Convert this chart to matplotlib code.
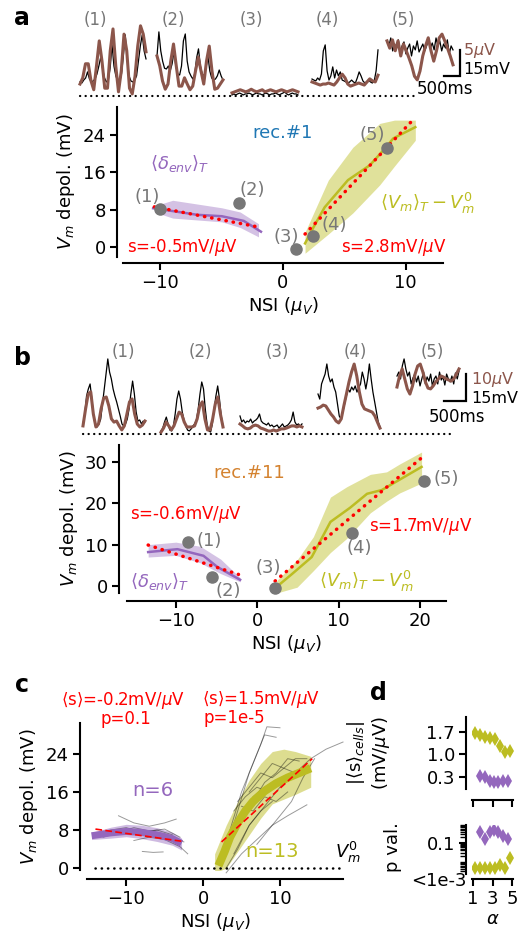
import numpy as np
import matplotlib
matplotlib.use("Agg")
import matplotlib.pyplot as plt
from matplotlib.ticker import LogLocator, NullFormatter

W, H = 527, 938
PURPLE = "#9467bd"
OLIVE = "#bcbd22"
BROWN = "#8c564b"
GREY = "#777777"
RED = "red"

# ---------------- example traces (black: Vm in mV, brown: envelope in uV) ----------------
a1_k = [8.1, 7.5, 9.2, 10.4, 13.9, 9.8, 8.1, 8.7, 9.8, 12.7, 17.3, 22.5, 15.6, 10.4, 8.1, 9.2, 16.2, 29.5,
        17.3, 11.6, 8.7, 8.1, 12.7, 23.1, 35.3, 22, 11.6, 8.7, 8.1, 9.2, 11.6, 20.2, 28.9, 35.3, 26, 21.4]
a1_b = [2.3, 3.5, 6.2, 6.2, 2.9, 1.2, 5.8, 10.6, 6.7, 1.5, 1.5, 8.7, 12.9, 5.8, 0.8, 4.8, 11.9, 8.7, 1.5,
        0.4, 3.8, 9.6, 13.5, 11.9, 8.5]
a2_k = [23, 37, 26, 20, 16, 15.6, 17.3, 14.5, 18.5, 25.4, 17.3, 12.7, 12.1, 17.3, 31.8, 35.8, 20.2, 13.9,
        11.6, 9.8, 12.7, 22, 27.2, 17.3, 12.7, 11.6, 16.2, 23.1, 14.5, 10.4, 9.2, 9.8, 11.6, 15, 11.6, 9.2]
a2_b = [7.7, 5.8, 2.9, 1.3, 2.3, 6.7, 10, 5.8, 1.9, 1.9, 3.5, 2.3, 1.2, 1.9, 4.8, 7.5, 4.8, 2.3, 6.7, 9.6,
        4.8, 1.3, 1.5, 2.3, 3.1]
a3_k = [0.6, 1.2, 0.6, 1.2, 1.7, 1.2, 0.6, 1.2, 1.2, 1.7, 1.2, 0.6, 1.2, 1.7, 1.2, 1.2, 0.6, 1.2, 1.7, 1.2,
        0.6, 1.2, 1.2, 1.7, 1.2, 0.6, 1.2, 1.7, 2.3, 1.2, 0.6, 1.2, 1.7, 1.2, 1.2, 0.6]
a3_b = [0.6, 0.8, 1, 1.2, 1, 0.8, 1, 1.3, 1, 0.8, 1, 1.2, 0.8, 1, 1.2, 1, 0.8, 1, 1.2, 1, 0.8, 1, 1.2, 1, 0.8]
a4_k = [9.8, 9.2, 8.7, 10.4, 9.2, 12.7, 26, 29.5, 14.5, 9.2, 11.6, 16.8, 10.4, 15, 11.6, 13.9, 9.2, 8.7,
        8.1, 7.5, 8.1, 9.2, 8.1, 7.5, 10.4, 13.9, 11.6, 8.7, 7.5, 8.1, 9.2, 8.1, 7.5, 8.7, 14.5, 26.6]
a4_b = [2.7, 2.5, 2.3, 2.1, 2.3, 2.3, 2.5, 2.3, 2.1, 2.7, 3.5, 4.2, 3.5, 2.3, 1.9, 2.1, 2.3, 2.5, 2.3, 2.1,
        2.7, 3.3, 2.9, 2.7, 4.0]
a5_k = [31.8, 28.9, 33.5, 26, 30, 27.7, 32.4, 25.4, 28.9, 31.2, 24.3, 27.7, 30, 23.1, 28.9, 26.6, 31.8, 25.4,
        27.7, 30, 26, 28.9, 32.4, 27.7, 30.6, 26.6, 33.5, 28.9, 31.8, 26, 30, 27.7, 32.4, 24.3, 28.9, 26.6]
a5_b = [10.6, 9.2, 10.8, 8.7, 10.6, 7.7, 10, 8.7, 7.3, 5.8, 3.8, 3.1, 4.8, 7.7, 9.6, 11.2, 8.7, 6.7, 8.7,
        11.2, 11.9, 10.6, 9.2, 7.7, 6]

b1_k = [5.6, 11.1, 21.1, 25, 27.8, 19.4, 10, 4.4, 3.9, 5.6, 8.3, 16.7, 25, 33.3, 41.7, 34.4, 30.6, 25,
        21.1, 17.8, 13.9, 10, 5.6, 4.4, 5.6, 8.3, 13.9, 22.2, 29.4, 22.2, 12.2, 7.2, 7.8, 5.6, 7.2, 6.7]
b1_b = [3, 9.3, 14.8, 15.6, 7.4, 2.6, 3.7, 9.3, 13.3, 13.7, 10.4, 5.6, 4.4, 4.8, 3, 1.5, 3, 7.4, 11.9, 13,
        7.4, 3.7, 2.6, 3.3, 4.8]
b2_k = [1.7, 3.3, 6.7, 9.4, 5.6, 2.2, 1.7, 4.4, 11.1, 19.4, 23.9, 19.4, 12.2, 7.8, 4.4, 2.2, 1.7, 2.8,
        4.4, 5.6, 7.8, 13.9, 22.2, 28.9, 25, 13.9, 5.6, 1.7, 1.1, 5.6, 13.9, 21.1, 26.7, 19.4, 10, 4.4]
b2_b = [0.7, 2.2, 4.4, 3, 1.5, 3, 5.6, 8.1, 7.4, 4.4, 2.6, 2.6, 2.6, 3, 5.6, 10.4, 11.9, 5.6, 1.5, 1.5,
        5.6, 11.1, 13.7, 7.4, 2.6]
b3_k = [10, 6.7, 7.8, 6.1, 7.2, 6.7, 8.3, 6.1, 7.2, 7.8, 8.9, 11.1, 7.2, 6.1, 5.6, 5, 6.1, 4.4, 5, 3.9,
        4.4, 5, 3.3, 4.4, 5.6, 3.9, 4.4, 5, 6.1, 7.8, 12.2, 6.7, 5, 5.6, 4.4, 5.6]
b3_b = [3.7, 3, 2.2, 1.9, 2.2, 3, 3.3, 3, 2.2, 1.9, 1.5, 1.1, 1.1, 1.5, 1.1, 1.5, 1.9, 1.9, 2.2, 2.6, 3, 3,
        2.6, 3, 2.6]
b4_k = [22.2, 19.4, 27.8, 30.6, 33.3, 38.9, 32.2, 28.9, 30.6, 26.1, 23.3, 16.7, 10, 8.3, 12.2, 16.7, 21.1,
        25, 23.3, 26.1, 24.4, 26.7, 23.3, 25.6, 27.8, 34.4, 30.6, 25, 30.6, 38.9, 30.6, 23.3, 17.8, 12.2,
        6.7, 3.9]
b4_b = [9.6, 10, 10.7, 10.4, 8.9, 7.4, 6.3, 4.8, 4.1, 5.6, 10.4, 14.8, 19.3, 23, 25.9, 21.5, 15.6, 11.1,
        9.3, 8.9, 8.5, 8.1, 6.7, 4.4, 2.2]
b5_k = [32.2, 34.4, 30.6, 37.8, 41.7, 36.1, 32.2, 34.4, 27.8, 31.1, 33.3, 28.9, 32.2, 26.7, 30.6, 34.4,
        27.8, 31.7, 29.4, 33.3, 26.7, 30.6, 32.2, 27.8, 34.4, 30, 31.7, 27.2, 33.3, 30.6, 28.9, 32.2, 27.8,
        33.9, 30.6, 35]
b5_b = [17.4, 21.5, 24.1, 20.4, 16.7, 14.8, 17.8, 22.2, 25.2, 25.9, 23, 19.3, 17, 16.7, 17.8, 19.3, 20.4,
        21.5, 21.1, 20.4, 20, 19.6, 20.4, 22.2, 24.1]

# ---------------- panel a : rec.#1 ----------------
a_env_x = [-10.6, -9, -7, -5, -3.2, -1.8]
a_env_y = [8.3, 7.7, 6.9, 6.6, 5.6, 3.3]
a_env_bx = [-10.5, -9, -7, -5, -3.5, -2]
a_env_hi = [8.8, 10.0, 9.2, 8.4, 7.5, 5.0]
a_env_lo = [7.5, 6.2, 5.8, 5.4, 4.2, 2.2]
a_vm_x = [1.8, 2.5, 3.4, 5.3, 7.1, 8.2, 9.0, 10.8]
a_vm_y = [0.8, 4.3, 8.5, 14.3, 17.5, 20.7, 23.2, 25.6]
a_vm_bx = [1.8, 3.7, 5.7, 7.9, 9.1, 10.8]
a_vm_hi = [3.2, 14.3, 21.3, 26.4, 27.1, 27.1]
a_vm_lo = [-1.3, 2.8, 7.3, 13.3, 17.3, 22.8]
a_fit_env_x, a_fit_env_y = [-10.5, -2], [8.6, 4.3]
a_fit_vm_x, a_fit_vm_y = [1.8, 10.7], [2.8, 27.4]
a_pts_x = [-10.0, -3.6, 1.06, 2.45, 8.5]
a_pts_y = [8.1, 9.4, -0.4, 2.3, 21.1]
a_lab_x = [-11.1, -2.5, 0.3, 4.2, 7.3]
a_lab_y = [10.7, 12.2, 2.1, 4.7, 23.9]

# ---------------- panel b : rec.#11 ----------------
b_env_x = [-13.4, -9.8, -6.6, -4.9, -2.1]
b_env_y = [8.2, 8.9, 7.3, 4.6, 1.5]
b_env_bx = [-13.4, -10, -7, -4.5, -2.1]
b_env_hi = [10.0, 10.6, 9.6, 6.5, 2.0]
b_env_lo = [7.0, 7.4, 5.6, 3.0, 1.0]
b_vm_x = [2.4, 4.4, 6.7, 9.0, 11.4, 13.5, 15.3, 20.2]
b_vm_y = [-0.2, 3.1, 7.0, 15.5, 18.9, 22.3, 23.2, 28.8]
b_vm_bx = [2.4, 4.9, 6.9, 9.0, 11.0, 13.9, 15.9, 17.5, 20.2]
b_vm_hi = [1.3, 6.3, 11.9, 21.5, 24.0, 27.0, 27.6, 29.5, 32.4]
b_vm_lo = [-1.7, -0.3, 3.7, 8.1, 11.5, 17.7, 20.5, 22.5, 24.9]
b_fit_env_x, b_fit_env_y = [-13.4, -2.3], [9.9, 2.8]
b_fit_vm_x, b_fit_vm_y = [2.2, 20.2], [1.2, 31.0]
b_pts_x = [-8.5, -5.5, 2.2, 11.7, 20.5]
b_pts_y = [10.7, 2.2, -0.5, 12.8, 25.4]
b_lab_x = [-5.9, -3.6, 1.4, 12.5, 23.2]
b_lab_y = [10.9, -1.2, 4.4, 9.2, 25.9]

# ---------------- panel c : population ----------------
c_env_x = [-14.5, -12, -10, -8, -6, -4, -2.8]
c_env_y = [6.8, 7.4, 7.7, 7.5, 7.0, 6.2, 5.2]
c_env_hi = [7.5, 8.6, 9.2, 9.0, 8.5, 7.5, 6.3]
c_env_lo = [6.0, 6.3, 6.6, 6.2, 5.6, 4.8, 3.8]
c_vm_x = [2, 2.8, 3.5, 4.5, 5.5, 6.5, 8, 9.5, 11, 12.5, 14]
c_vm_y = [0.5, 3.5, 6.5, 9.5, 12, 14, 16.2, 17.8, 19, 20, 21]
c_vm_bx = [1.5, 3, 4.5, 6, 7.5, 9, 10.5, 12, 14]
c_vm_hi = [3, 9, 14, 18.5, 22, 24.5, 25, 24.5, 23.5]
c_vm_lo = [-1, 0, 3.5, 7, 10.5, 13.5, 14.5, 15.5, 17]
c_fit_env_x, c_fit_env_y = [-14, -2.6], [8.2, 5.6]
c_fit_vm_x, c_fit_vm_y = [2.4, 14.2], [5.5, 23.0]
c_cells_env = [
    ([-13, -11, -9, -7, -5, -3], [6.5, 7.5, 8.5, 7.8, 8.2, 6.5]),
    ([-11, -9, -7, -5, -3.5], [11, 9.5, 8.8, 9.5, 10.3]),
    ([-9, -7, -5, -3, -2], [5.8, 6.5, 6, 4.5, 3]),
    ([-12, -10, -8, -6, -4], [8, 8.5, 7.5, 8, 7]),
    ([-7.9, -6.5, -5.2], [3.5, 3.3, 3.4]),
    ([-13.5, -11, -8, -5, -2.5], [7, 7.8, 8, 7.2, 5.5]),
]
c_cells_vm = [
    ([2, 3.5, 5, 6.5, 8, 9.5], [1, 8, 16, 22, 28, 27.5]),
    ([3, 4.5, 6, 7.5, 8.3, 10], [4, 12, 20, 26, 29.7, 29.5]),
    ([4, 6, 8, 10, 12, 14, 16, 18.2], [3, 9, 13, 17, 20, 23, 25, 26.5]),
    ([3, 5, 7, 9, 11, 13.5], [-1, 3, 6, 9, 11, 13.3]),
    ([4, 5.5, 7, 8.5, 10], [12, 15, 17, 16, 18]),
    ([4.5, 6, 7.5, 9, 10.5, 12], [14, 17, 20, 19, 21, 20]),
    ([5, 6.5, 8, 9.5, 11, 12.5], [10, 14, 18, 20, 23, 22.5]),
    ([3.5, 5, 6.5, 8, 9.5], [6, 10, 15, 17, 18.5]),
    ([6, 7.5, 9, 10.5, 12, 13.5], [16, 19, 22, 21, 23, 23]),
    ([2.5, 4, 5.5, 7, 8.5], [2, 7, 11, 15, 16]),
    ([5, 6.5, 8, 9.5, 11], [13, 12, 15, 14, 16]),
    ([7, 8.5, 10, 11.5, 13, 14.5], [5, 8, 11, 14, 19, 23]),
    ([3, 4.5, 6, 7.5, 9], [0, 4, 9, 12, 14]),
]

# ---------------- panel d : alpha dependence ----------------
d_alpha_olive = [1.25, 1.75, 2.25, 2.75, 3.25, 3.75, 4.25, 4.75]
d_s_olive = [1.65, 1.60, 1.54, 1.50, 1.47, 1.26, 1.06, 1.10]
d_p_olive = [0.0046, 0.0046, 0.0046, 0.0046, 0.0046, 0.0065, 0.0043, 0.016]
d_alpha_purple = [1.7, 2.2, 2.7, 3.15, 3.6, 4.1, 4.6]
d_s_purple = [0.32, 0.29, 0.18, 0.14, 0.14, 0.17, 0.18]
d_p_purple = [0.38, 0.17, 0.38, 0.5, 0.41, 0.24, 0.16]


def px_rect(x0, y0, x1, y1):
    return [x0 / W, 1 - y1 / H, (x1 - x0) / W, (y1 - y0) / H]


def style(ax, off_l, off_b, size=13):
    for s in ["top", "right"]:
        ax.spines[s].set_visible(False)
    ax.spines["left"].set_position(("outward", off_l))
    ax.spines["bottom"].set_position(("outward", off_b))
    for s in ["left", "bottom"]:
        ax.spines[s].set_linewidth(1.5)
    ax.tick_params(width=1.5, length=5, labelsize=size, pad=3)


def dotted(ax, x, y, color, lw=2.5, gap=2.0):
    ax.plot(x, y, color=color, lw=lw, ls=(0, (0.1, gap)), dash_capstyle="round", zorder=4)


fig = plt.figure(figsize=(W / 100, H / 100), dpi=100)


def strip(rect, x0px, base_px, px_s, px_mv, starts_px, dur_px, blacks, browns, b_scale):
    ax = fig.add_axes(px_rect(*rect))
    ax.set_xlim((rect[0] - x0px) / px_s, (rect[2] - x0px) / px_s)
    ax.set_ylim(-(rect[3] - base_px) / px_mv, (base_px - rect[1]) / px_mv)
    ax.axis("off")
    for sp, k, b in zip(starts_px, blacks, browns):
        t0 = (sp - x0px) / px_s
        d = dur_px / px_s
        ax.plot(t0 + np.linspace(0, d, len(k)), k, color="k", lw=0.9, zorder=2)
        ax.plot(t0 + np.linspace(0, d, len(b)), np.array(b) * b_scale, color=BROWN, lw=2.2, zorder=3,
                solid_joinstyle="round")
    return ax


# ---------- strip a ----------
sa = strip((75, 12, 480, 100), 75, 96, 34, 1.733, [80, 157, 232, 312, 387], 66,
           [a1_k, a2_k, a3_k, a4_k, a5_k], [a1_b, a2_b, a3_b, a4_b, a5_b], 3.0)
tx = lambda px: (px - 75) / 34
ty = lambda py: (96 - py) / 1.733
sa.plot([tx(80), tx(418)], [0, 0], color="k", lw=1.6, ls=(0, (0.1, 2.4)), dash_capstyle="round")
for i, px in enumerate([95, 173, 251, 327, 403]):
    sa.text(tx(px), ty(20), "(%d)" % (i + 1), color=GREY, fontsize=12, ha="center", va="center", clip_on=False)
sa.plot([tx(444), tx(460), tx(460)], [ty(76), ty(76), ty(50)], color="k", lw=1.6, solid_joinstyle="miter")
sa.text(tx(463), ty(51), r"5$\mu$V", color=BROWN, fontsize=11.5, va="center", clip_on=False)
sa.text(tx(463), ty(70), "15mV", color="k", fontsize=11.5, va="center", clip_on=False)
sa.text(tx(445), ty(89), "500ms", color="k", fontsize=12, ha="center", va="center", clip_on=False)

# ---------- main a ----------
ax = fig.add_axes(px_rect(123, 107, 443, 257))
style(ax, 4.3, 4.3)
ax.set_xlim(-13.06, 13.06)
ax.set_ylim(-2.1, 29.9)
ax.fill_between(a_env_bx, a_env_lo, a_env_hi, color=PURPLE, alpha=0.4, lw=0)
ax.plot(a_env_x, a_env_y, color=PURPLE, lw=1.8)
ax.fill_between(a_vm_bx, a_vm_lo, a_vm_hi, color=OLIVE, alpha=0.45, lw=0)
ax.plot(a_vm_x, a_vm_y, color=OLIVE, lw=1.8)
dotted(ax, a_fit_env_x, a_fit_env_y, RED)
dotted(ax, a_fit_vm_x, a_fit_vm_y, RED)
ax.plot(a_pts_x, a_pts_y, "o", color=GREY, ms=8, zorder=5)
for i, (x, y) in enumerate(zip(a_lab_x, a_lab_y)):
    ax.text(x, y, "(%d)" % (i + 1), color=GREY, fontsize=13, ha="center", va="center")
ax.text(0, 24.3, "rec.#1", color="tab:blue", fontsize=13, ha="center", va="center")
ax.text(-8.4, 17.9, r"$\langle\delta_{env}\rangle_T$", color=PURPLE, fontsize=13, ha="center", va="center")
ax.text(11.8, 9.4, r"$\langle V_m\rangle_T - V_m^0$", color=OLIVE, fontsize=13, ha="center", va="center")
ax.text(-8.2, 0, r"s=-0.5mV/$\mu$V", color=RED, fontsize=12, ha="center", va="center")
ax.text(9.0, 0, r"s=2.8mV/$\mu$V", color=RED, fontsize=12, ha="center", va="center")
ax.set_xticks([-10, 0, 10])
ax.set_yticks([0, 8, 16, 24])
ax.set_xlabel(r"NSI ($\mu_V$)", fontsize=13, labelpad=2)
ax.set_ylabel(r"$V_m$ depol. (mV)", fontsize=13)

# ---------- strip b ----------
sb = strip((75, 340, 490, 440), 75, 434, 44, 1.8, [83, 161, 240, 318, 397], 62,
           [b1_k, b2_k, b3_k, b4_k, b5_k], [b1_b, b2_b, b3_b, b4_b, b5_b], 1.5)
ux = lambda px: (px - 75) / 44
uy = lambda py: (434 - py) / 1.8
sb.plot([ux(83), ux(455)], [0, 0], color="k", lw=1.6, ls=(0, (0.1, 2.4)), dash_capstyle="round")
for i, px in enumerate([123, 200, 277, 355, 432]):
    sb.text(ux(px), uy(352), "(%d)" % (i + 1), color=GREY, fontsize=12, ha="center", va="center", clip_on=False)
sb.plot([ux(444), ux(466), ux(466)], [uy(401), uy(401), uy(374)], color="k", lw=1.6, solid_joinstyle="miter")
sb.text(ux(471), uy(379), r"10$\mu$V", color=BROWN, fontsize=11.5, va="center", clip_on=False)
sb.text(ux(471), uy(398), "15mV", color="k", fontsize=11.5, va="center", clip_on=False)
sb.text(ux(457), uy(417), "500ms", color="k", fontsize=12, ha="center", va="center", clip_on=False)

# ---------- main b ----------
ax = fig.add_axes(px_rect(127, 445, 446, 593))
style(ax, 5.8, 5.8)
ax.set_xlim(-16, 23.2)
ax.set_ylim(-1.7, 34.1)
ax.fill_between(b_env_bx, b_env_lo, b_env_hi, color=PURPLE, alpha=0.4, lw=0)
ax.plot(b_env_x, b_env_y, color=PURPLE, lw=1.8)
ax.fill_between(b_vm_bx, b_vm_lo, b_vm_hi, color=OLIVE, alpha=0.45, lw=0)
ax.plot(b_vm_x, b_vm_y, color=OLIVE, lw=1.8)
dotted(ax, b_fit_env_x, b_fit_env_y, RED)
dotted(ax, b_fit_vm_x, b_fit_vm_y, RED)
ax.plot(b_pts_x, b_pts_y, "o", color=GREY, ms=8, zorder=5, clip_on=False)
for i, (x, y) in enumerate(zip(b_lab_x, b_lab_y)):
    ax.text(x, y, "(%d)" % (i + 1), color=GREY, fontsize=13, ha="center", va="center", clip_on=False)
ax.text(-1.0, 27.4, "rec.#11", color="#d4822f", fontsize=13, ha="center", va="center")
ax.text(-12.0, 1.0, r"$\langle\delta_{env}\rangle_T$", color=PURPLE, fontsize=13, ha="center", va="center")
ax.text(13.4, 1.0, r"$\langle V_m\rangle_T - V_m^0$", color=OLIVE, fontsize=13, ha="center", va="center")
ax.text(-8.8, 17.4, r"s=-0.6mV/$\mu$V", color=RED, fontsize=12, ha="center", va="center")
ax.text(20.1, 14.3, r"s=1.7mV/$\mu$V", color=RED, fontsize=12, ha="center", va="center")
ax.set_xticks([-10, 0, 10, 20])
ax.set_yticks([0, 10, 20, 30])
ax.set_xlabel(r"NSI ($\mu_V$)", fontsize=13, labelpad=2)
ax.set_ylabel(r"$V_m$ depol. (mV)", fontsize=13)

# ---------- main c ----------
ax = fig.add_axes(px_rect(87, 723, 343, 870))
style(ax, 5, 6.5)
ax.set_xlim(-15.1, 18.2)
ax.set_ylim(-0.4, 30.5)
for x, y in c_cells_env + c_cells_vm:
    ax.plot(x, y, color="k", alpha=0.4, lw=0.7, zorder=2, clip_on=False)
ax.fill_between(c_env_x, c_env_lo, c_env_hi, color=PURPLE, alpha=0.45, lw=0, zorder=1)
ax.plot(c_env_x, c_env_y, color=PURPLE, lw=5, solid_capstyle="butt", solid_joinstyle="round", zorder=3)
ax.fill_between(c_vm_bx, c_vm_lo, c_vm_hi, color=OLIVE, alpha=0.5, lw=0, zorder=1)
ax.plot(c_vm_x, c_vm_y, color=OLIVE, lw=6, solid_capstyle="butt", solid_joinstyle="round", zorder=3)
ax.plot(c_fit_env_x, c_fit_env_y, color=RED, lw=1.2, ls=(0, (4, 2)), zorder=4)
ax.plot(c_fit_vm_x, c_fit_vm_y, color=RED, lw=1.2, ls=(0, (4, 2)), zorder=4)
ax.plot([-14, 18], [0, 0], color="k", lw=1.8, ls=(0, (0.1, 2.4)), dash_capstyle="round", clip_on=False)
ax.text(18.8, 3.2, r"$V_m^0$", fontsize=13, ha="center", va="center", clip_on=False)
ax.text(-6.5, 16.4, "n=6", color=PURPLE, fontsize=14, ha="center", va="center")
ax.text(9.0, 3.4, "n=13", color=OLIVE, fontsize=14, ha="center", va="center")
ax.text(-10.4, 35.2, r"$\langle$s$\rangle$=-0.2mV/$\mu$V", color=RED, fontsize=12, ha="center", va="center",
        clip_on=False)
ax.text(-10.1, 31.3, "p=0.1", color=RED, fontsize=12, ha="center", va="center", clip_on=False)
ax.text(-0.1, 35.5, r"$\langle$s$\rangle$=1.5mV/$\mu$V", color=RED, fontsize=12, ha="left", va="center",
        clip_on=False)
ax.text(0.0, 31.6, "p=1e-5", color=RED, fontsize=12, ha="left", va="center", clip_on=False)
ax.set_xticks([-10, 0, 10])
ax.set_yticks([0, 8, 16, 24])
ax.set_xlabel(r"NSI ($\mu_V$)", fontsize=13, labelpad=2)
ax.set_ylabel(r"$V_m$ depol. (mV)", fontsize=13)

# ---------- panel d ----------
ad1 = fig.add_axes(px_rect(472, 717, 513, 789))
style(ad1, 4.3, 8, size=13)
ad1.set_xlim(0.9, 5.1)
ad1.set_ylim(-0.08, 2.16)
ad1.plot(d_alpha_olive, d_s_olive, "d", color=OLIVE, ms=7.5, mew=0)
ad1.plot(d_alpha_purple, d_s_purple, "d", color=PURPLE, ms=7.5, mew=0)
ad1.set_xticks([1, 3, 5])
ad1.set_xticklabels([])
ad1.set_yticks([0.3, 1.0, 1.7])
ad1.set_yticklabels(["0.3", "1.0", "1.7"])
ad1.set_ylabel(r"$|\langle \mathrm{s}\rangle_{cells}|$" + "\n" + r"(mV/$\mu$V)", fontsize=13)
ad1.yaxis.set_label_coords(-1.95, 0.5)

ad2 = fig.add_axes(px_rect(472, 825, 513, 874))
style(ad2, 4.3, 3.6, size=13)
ad2.set_xlim(0.9, 5.1)
ad2.set_yscale("log")
ad2.set_ylim(0.0021, 0.94)
ad2.plot(d_alpha_purple, d_p_purple, "d", color=PURPLE, ms=7.5, mew=0)
ad2.plot(d_alpha_olive, d_p_olive, "d", color=OLIVE, ms=7.5, mew=0)
ad2.set_yticks([0.1])
ad2.set_yticklabels(["0.1"])
ad2.yaxis.set_minor_locator(LogLocator(base=10, subs=np.arange(2, 10) * 1.0, numticks=20))
ad2.yaxis.set_minor_formatter(NullFormatter())
ad2.tick_params(axis="y", which="minor", length=4, width=1.0)
ad2.annotate("<1e-3", xy=(0, 0), xycoords="axes fraction", xytext=(-4, -5), textcoords="offset points",
             ha="right", va="center", fontsize=13, annotation_clip=False)
ad2.set_xticks([1, 3, 5])
ad2.set_ylabel("p val.", fontsize=13)
ad2.yaxis.set_label_coords(-1.7, 0.55)
ad2.set_xlabel(r"$\alpha$", fontsize=13, labelpad=1)

# ---------- panel letters ----------
for lab, px, py in [("a", 22, 18), ("b", 22, 358), ("c", 22, 685), ("d", 378, 693)]:
    fig.text(px / W, 1 - py / H, lab, fontsize=17, fontweight="bold", ha="center", va="center")

fig.savefig("out.png", dpi=100)
